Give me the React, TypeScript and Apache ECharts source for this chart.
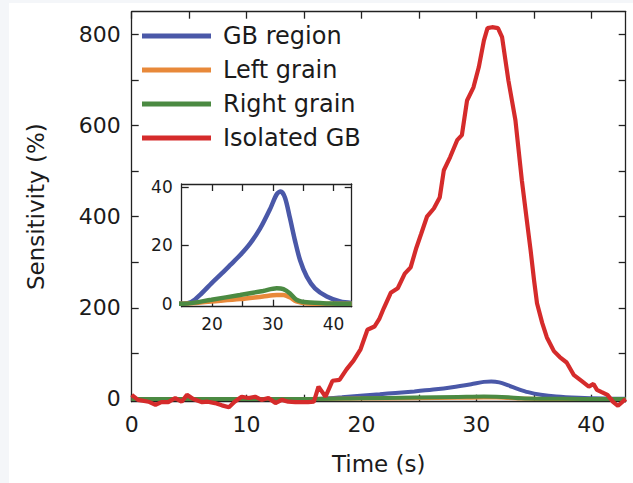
import React, { useEffect, useRef } from "react";
import * as echarts from "echarts";

// ---- Data ----
const seriesNames = ["GB region", "Left grain", "Right grain", "Isolated GB"];
const seriesColors = ["#4a58a8", "#e8893a", "#4b8a42", "#d52b2b"];

// Isolated GB (main plot)
const isoTime = [0, 0.55, 1.46, 2.07, 2.58, 3.18, 3.79, 4.35, 4.81, 5.36, 6.13, 6.63, 7.24, 7.85, 8.46, 8.96, 9.57, 10.18, 10.74, 11.3, 11.9, 12.51, 13.07, 13.63, 14.24, 14.85, 15.35, 15.86, 16.26, 16.87, 17.48, 18.09, 18.7, 19.31, 19.92, 20.52, 21.13, 21.54, 21.94, 22.55, 23.16, 23.77, 24.28, 24.78, 25.19, 25.7, 26.3, 26.81, 27.17, 27.72, 28.33, 28.74, 29.19, 29.75, 30.21, 30.66, 30.97, 31.37, 31.88, 32.24, 32.79, 33.4, 33.96, 34.42, 34.72, 35.02, 35.28, 35.73, 36.14, 36.75, 37.26, 37.86, 38.47, 39.18, 39.79, 40.2, 40.5, 40.91, 41.41, 41.92, 42.33, 42.73, 43.0];
const isoValues = [9, -2, -6, -13, -7, -7, 2, -6, 9, 0, -7, -6, -9, -14, -18, -6, 5, 2, 5, -2, 2, -9, -2, -6, -7, -7, -7, -6, 27, 5, 40, 42, 65, 84, 109, 152, 159, 175, 199, 233, 243, 275, 289, 332, 362, 400, 418, 442, 502, 531, 568, 579, 655, 684, 728, 787, 814, 816, 814, 794, 699, 612, 480, 387, 327, 261, 210, 167, 135, 105, 92, 80, 53, 39, 27, 33, 20, 15, 9, -7, -15, -6, 0];

// GB region
const gbTime = [0, 15.26, 16.6, 18.3, 19.9, 21.6, 22.96, 24.6, 26.25, 27.9, 29.55, 30.65, 31.3, 32.0, 32.8, 33.65, 34.5, 35.6, 36.95, 38.9, 41.1, 43];
const gbValues = [0, 0, 0.6, 3.6, 7.0, 10.4, 13.2, 16.6, 20.6, 25.7, 32.4, 37.5, 38.4, 36.4, 29.6, 21.7, 14.9, 9.3, 5.3, 2.5, 0.8, 0.3];

// Left grain
const leftTime = [0, 15.26, 19.9, 24.6, 28.4, 30.65, 31.75, 32.8, 33.9, 35.6, 43];
const leftValues = [0, 0, 0.8, 1.6, 2.5, 3, 3, 2.2, 0.8, 0.1, 0];

// Right grain
const rightTime = [0, 15.26, 19.9, 24.6, 28.4, 30.65, 31.75, 32.8, 33.9, 35.6, 39.4, 43];
const rightValues = [0, 0, 1.4, 3, 4.4, 5.3, 5, 3.6, 1.4, 0.5, 0.1, 0];

// Ticks
const mainXLabels = [0, 10, 20, 30, 40];
const mainXTicks = [0, 5, 10, 15, 20, 25, 30, 35, 40];
const mainYLabels = [0, 200, 400, 600, 800];
const mainYTicks = [0, 100, 200, 300, 400, 500, 600, 700, 800];
const insetXLabels = [20, 30, 40];
const insetXTicks = [20, 25, 30, 35, 40];
const insetYLabels = [0, 20, 40];

const pair = (t: number[], v: number[]) => t.map((x, i) => [x, v[i]]);

const FONT = "DejaVu Sans";
const TXT = "#1b1b1b";
const AX = "#222";

export default function App() {
  const ref = useRef<HTMLDivElement>(null);
  useEffect(() => {
    if (!ref.current) return;
    const chart = echarts.init(ref.current, undefined, { renderer: "svg" });

    const axisCommon = (labels: number[], ticks: number[], showLabel: boolean, fs: number, margin: number) => ({
      type: "value" as const,
      splitLine: { show: false },
      axisLine: { show: true, onZero: false, lineStyle: { color: AX, width: 1.3 } },
      axisTick: { show: true, inside: true, length: 7, customValues: ticks, lineStyle: { color: AX, width: 1.3 } },
      axisLabel: { show: showLabel, customValues: labels, color: TXT, fontSize: fs, fontFamily: FONT, margin },
    });

    const data = [pair(gbTime, gbValues), pair(leftTime, leftValues), pair(rightTime, rightValues), pair(isoTime, isoValues)];

    const mainSeries = data.map((d, i) => ({
      type: "line" as const,
      name: seriesNames[i],
      data: d,
      xAxisIndex: 0,
      yAxisIndex: 0,
      showSymbol: false,
      smooth: i === 3 ? false : 0.3,
      clip: false,
      lineStyle: { color: seriesColors[i], width: i === 3 ? 4.2 : 4 },
      itemStyle: { color: seriesColors[i] },
      z: 3 + i,
    }));

    const insetSeries = data.slice(0, 3).map((d, i) => ({
      type: "line" as const,
      name: seriesNames[i],
      data: d,
      xAxisIndex: 2,
      yAxisIndex: 2,
      showSymbol: false,
      smooth: 0.3,
      clip: true,
      lineStyle: { color: seriesColors[i], width: 4.5 },
      itemStyle: { color: seriesColors[i] },
      z: 10 + i,
    }));

    chart.setOption({
      animation: false,
      backgroundColor: "#ffffff",
      grid: [
        { left: 122.7, top: 8.7, width: 494, height: 390, containLabel: false },
        { left: 172.7, top: 181, width: 170, height: 122.7, containLabel: false, show: true, backgroundColor: "#ffffff", borderWidth: 0, z: 8 },
      ],
      xAxis: [
        {
          ...axisCommon(mainXLabels, mainXTicks, true, 22, 12),
          gridIndex: 0, position: "bottom", min: 0, max: 43,
          name: "Time (s)", nameLocation: "middle", nameGap: 51,
          nameTextStyle: { color: TXT, fontSize: 23, fontFamily: FONT },
        },
        { ...axisCommon(mainXLabels, mainXTicks, false, 22, 12), gridIndex: 0, position: "top", min: 0, max: 43 },
        { ...axisCommon(insetXLabels, insetXTicks, true, 17, 9), gridIndex: 1, position: "bottom", min: 15, max: 43, z: 9 },
        { ...axisCommon(insetXLabels, insetXTicks, false, 17, 9), gridIndex: 1, position: "top", min: 15, max: 43, z: 9 },
      ],
      yAxis: [
        {
          ...axisCommon(mainYLabels, mainYTicks, true, 22, 11),
          gridIndex: 0, position: "left", min: -6, max: 850,
          name: "Sensitivity (%)", nameLocation: "middle", nameGap: 84,
          nameTextStyle: { color: TXT, fontSize: 23, fontFamily: FONT },
        },
        { ...axisCommon(mainYLabels, mainYTicks, false, 22, 11), gridIndex: 0, position: "right", min: -6, max: 850 },
        { ...axisCommon(insetYLabels, insetYLabels, true, 17, 9), gridIndex: 1, position: "left", min: -1, max: 41, z: 9 },
        { ...axisCommon(insetYLabels, insetYLabels, false, 17, 9), gridIndex: 1, position: "right", min: -1, max: 41, z: 9 },
      ],
      legend: {
        data: seriesNames,
        orient: "vertical",
        left: 133,
        top: 20.5,
        icon: "rect",
        itemWidth: 69,
        itemHeight: 5,
        itemGap: 9,
        padding: 0,
        textStyle: { color: TXT, fontSize: 24, fontFamily: FONT, lineHeight: 25, padding: [0, 0, 0, 7] },
        selectedMode: false,
      },
      series: [...mainSeries, ...insetSeries],
    });

    return () => chart.dispose();
  }, []);

  return (
    <div style={{ position: "fixed", left: 0, top: 0, width: 633, height: 483, background: "#f4f6f9" }}>
      <div ref={ref} style={{ position: "absolute", left: 9, top: 3, width: 624, height: 480 }} />
    </div>
  );
}
